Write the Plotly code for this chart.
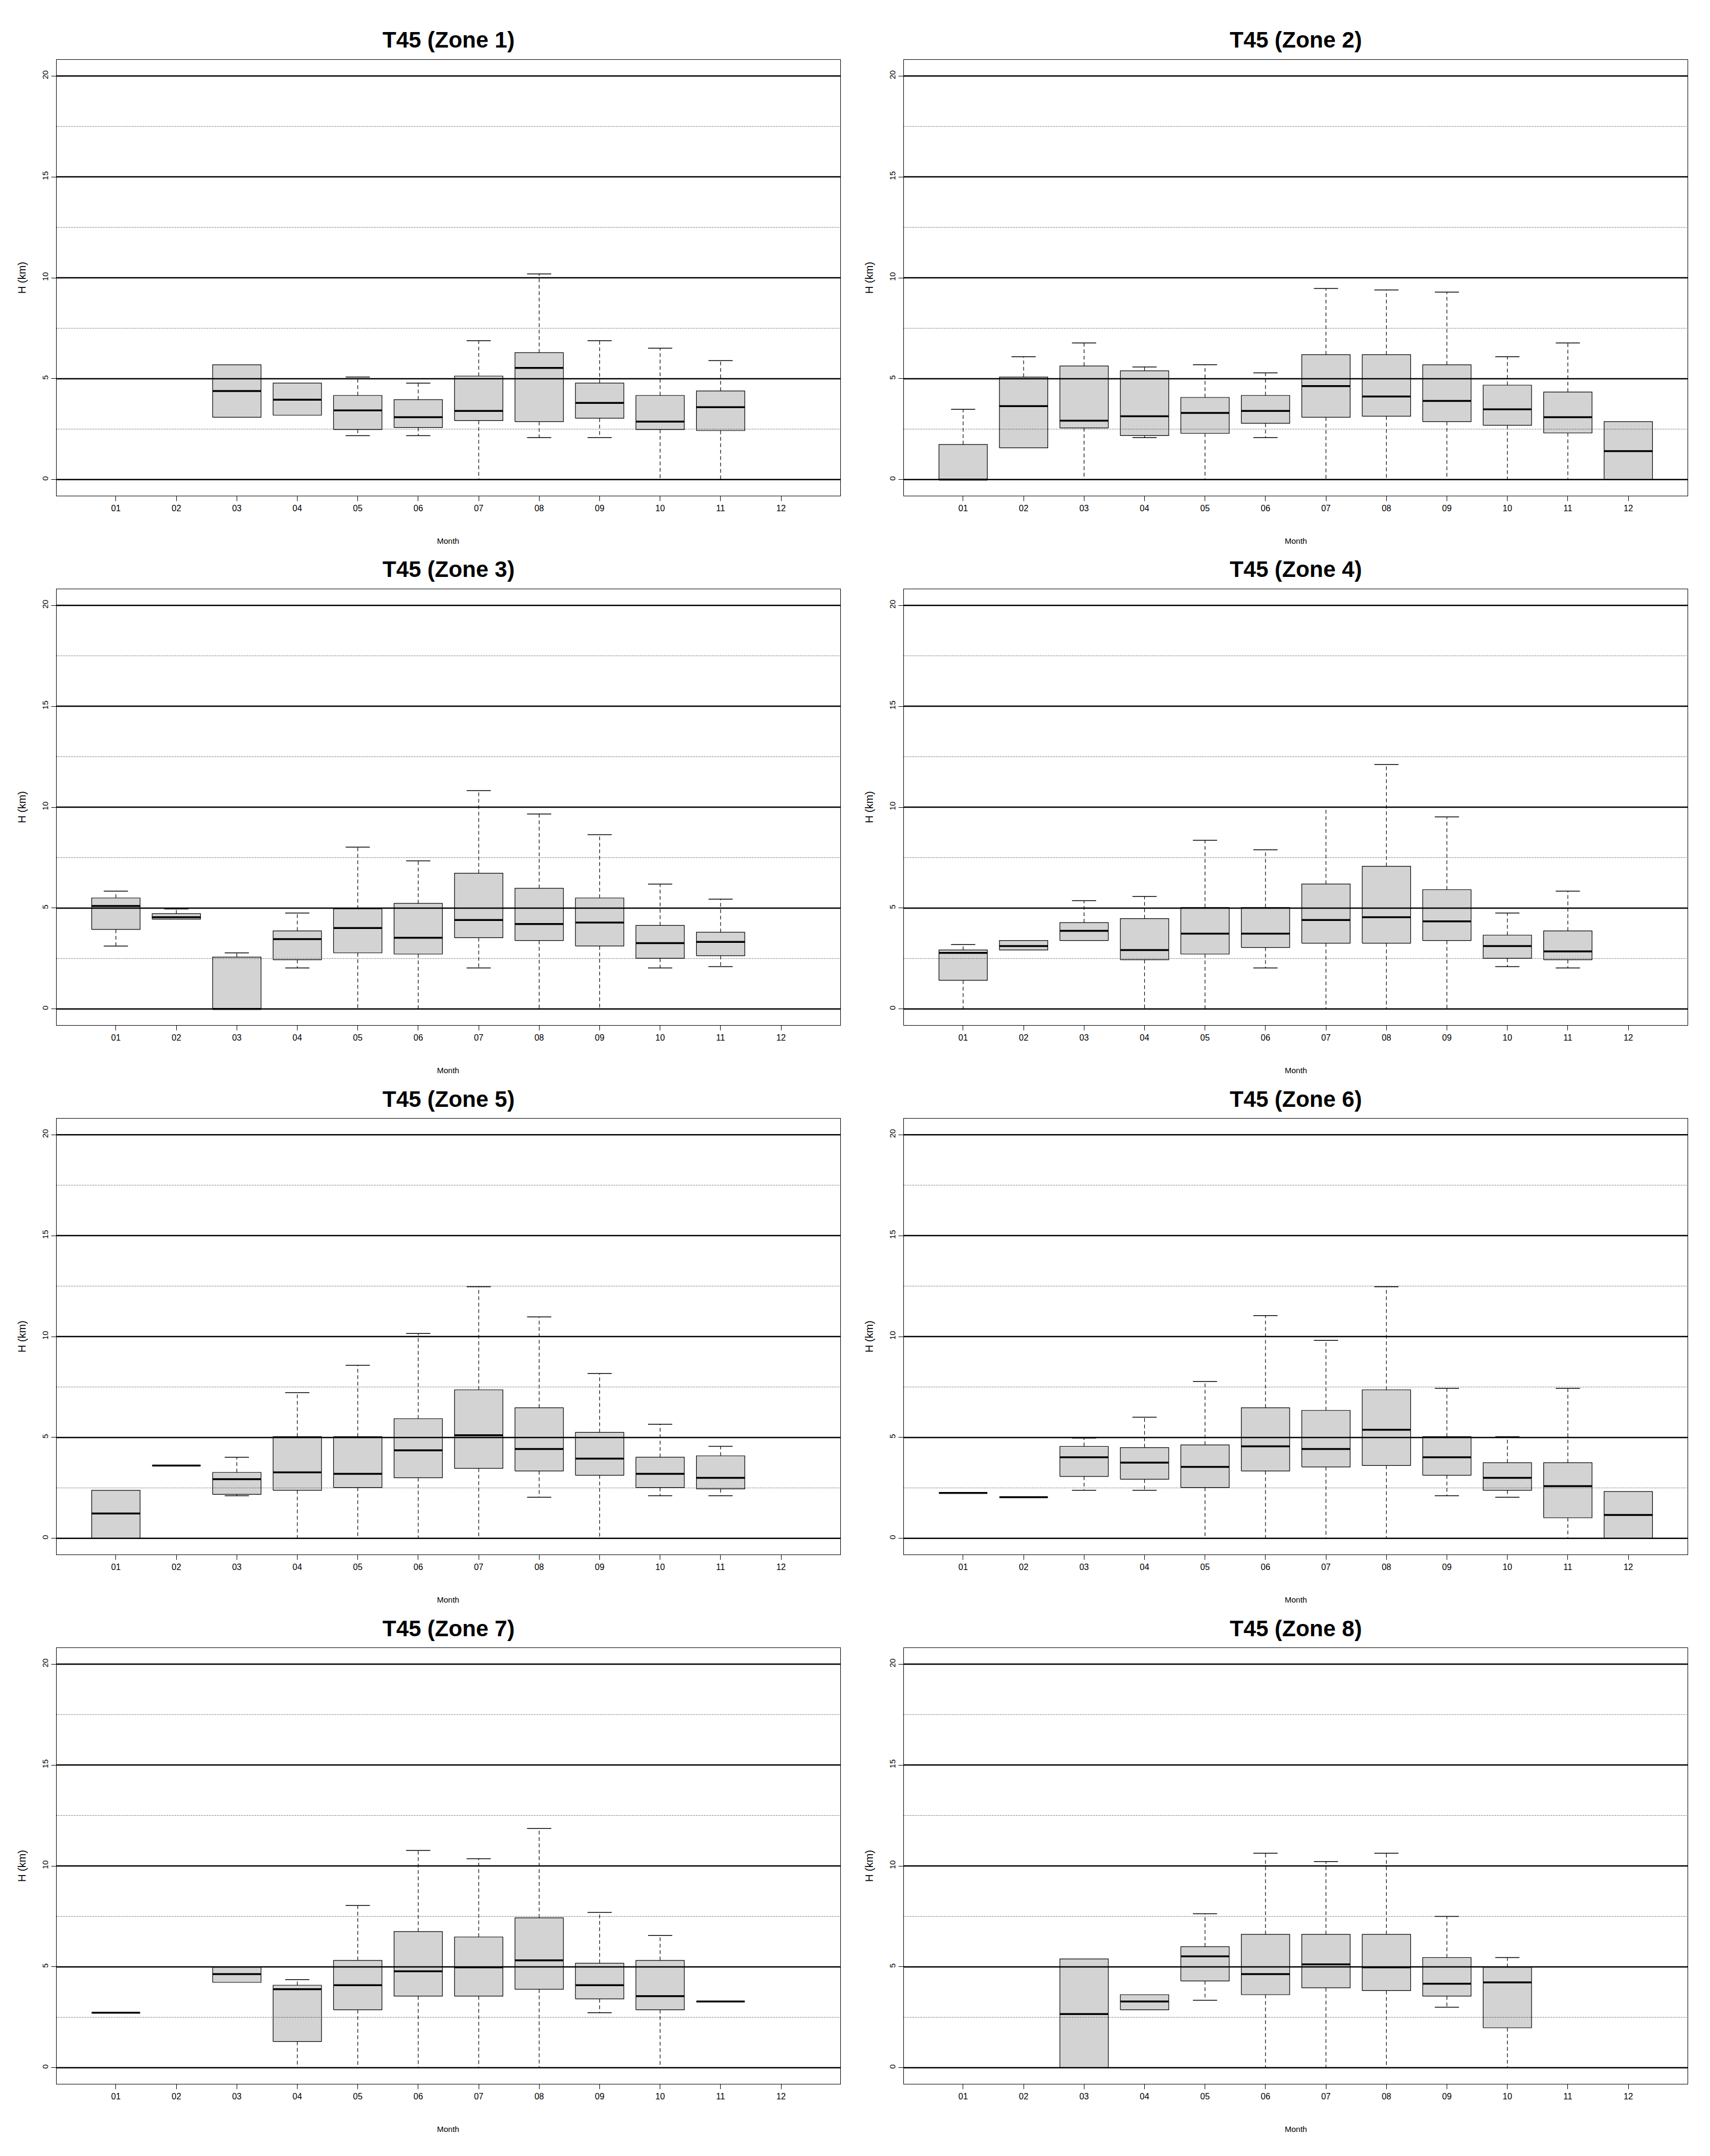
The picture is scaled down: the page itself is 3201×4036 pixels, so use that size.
import plotly.graph_objects as go

# ---------------- data ----------------
month_labels = ["01", "02", "03", "04", "05", "06", "07", "08", "09", "10", "11", "12"]
y_major = [0, 5, 10, 15, 20]
y_minor = [2.5, 7.5, 12.5, 17.5]

zone1_months = [3, 4, 5, 6, 7, 8, 9, 10, 11]
zone1_low = [3.09, 3.19, 2.18, 2.18, 0.0, 2.08, 2.08, 0.0, 0.0]
zone1_q1 = [3.09, 3.19, 2.48, 2.58, 2.92, 2.87, 3.04, 2.48, 2.43]
zone1_med = [4.39, 3.96, 3.43, 3.09, 3.40, 5.53, 3.80, 2.87, 3.59]
zone1_q3 = [5.69, 4.78, 4.17, 3.96, 5.13, 6.29, 4.78, 4.17, 4.39]
zone1_high = [5.69, 4.78, 5.08, 4.78, 6.88, 10.19, 6.88, 6.51, 5.90]

zone2_months = [1, 2, 3, 4, 5, 6, 7, 8, 9, 10, 11, 12]
zone2_low = [0.0, 1.57, 0.0, 2.08, 0.0, 2.08, 0.0, 0.0, 0.0, 0.0, 0.0, 0.0]
zone2_q1 = [0.0, 1.57, 2.56, 2.18, 2.29, 2.79, 3.09, 3.14, 2.87, 2.69, 2.31, 0.0]
zone2_med = [0.0, 3.64, 2.92, 3.14, 3.30, 3.40, 4.63, 4.12, 3.90, 3.48, 3.09, 1.41]
zone2_q3 = [1.74, 5.08, 5.63, 5.39, 4.07, 4.17, 6.19, 6.19, 5.69, 4.68, 4.34, 2.87]
zone2_high = [3.48, 6.09, 6.77, 5.58, 5.69, 5.29, 9.47, 9.40, 9.29, 6.09, 6.77, 2.87]

zone3_months = [1, 2, 3, 4, 5, 6, 7, 8, 9, 10, 11]
zone3_low = [3.12, 4.45, 0.0, 2.03, 0.0, 0.0, 2.03, 0.0, 0.0, 2.03, 2.10]
zone3_q1 = [3.94, 4.45, 0.0, 2.44, 2.78, 2.72, 3.53, 3.39, 3.12, 2.51, 2.64]
zone3_med = [5.10, 4.55, 0.0, 3.46, 4.01, 3.53, 4.41, 4.21, 4.28, 3.26, 3.32]
zone3_q3 = [5.50, 4.72, 2.57, 3.87, 4.96, 5.23, 6.73, 5.98, 5.50, 4.14, 3.80]
zone3_high = [5.84, 4.96, 2.78, 4.75, 8.02, 7.34, 10.82, 9.66, 8.64, 6.19, 5.44]

zone4_months = [1, 2, 3, 4, 5, 6, 7, 8, 9, 10, 11]
zone4_low = [0.0, 2.92, 3.39, 0.0, 0.0, 2.03, 0.0, 0.0, 0.0, 2.10, 2.03]
zone4_q1 = [1.42, 2.92, 3.39, 2.44, 2.72, 3.05, 3.26, 3.26, 3.39, 2.51, 2.44]
zone4_med = [2.78, 3.12, 3.87, 2.92, 3.73, 3.73, 4.41, 4.55, 4.34, 3.12, 2.85]
zone4_q3 = [2.92, 3.39, 4.28, 4.48, 5.03, 5.03, 6.19, 7.07, 5.91, 3.66, 3.87]
zone4_high = [3.19, 3.39, 5.37, 5.57, 8.36, 7.89, 10.00, 12.11, 9.52, 4.75, 5.84]

zone5_months = [1, 2, 3, 4, 5, 6, 7, 8, 9, 10, 11]
zone5_low = [0.0, 3.61, 2.11, 0.0, 0.0, 0.0, 0.0, 2.04, 0.0, 2.11, 2.11]
zone5_q1 = [0.0, 3.61, 2.18, 2.38, 2.52, 3.00, 3.47, 3.34, 3.13, 2.52, 2.45]
zone5_med = [1.23, 3.61, 2.93, 3.27, 3.20, 4.36, 5.11, 4.43, 3.95, 3.20, 3.00]
zone5_q3 = [2.38, 3.61, 3.27, 5.04, 5.04, 5.93, 7.36, 6.47, 5.25, 4.02, 4.09]
zone5_high = [2.38, 3.61, 4.02, 7.22, 8.58, 10.15, 12.47, 10.97, 8.17, 5.65, 4.56]

zone6_months = [1, 2, 3, 4, 5, 6, 7, 8, 9, 10, 11, 12]
zone6_low = [2.25, 2.04, 2.38, 2.38, 0.0, 0.0, 0.0, 0.0, 2.11, 2.04, 0.0, 0.0]
zone6_q1 = [2.25, 2.04, 3.07, 2.93, 2.52, 3.34, 3.54, 3.61, 3.13, 2.38, 1.02, 0.0]
zone6_med = [2.25, 2.04, 4.02, 3.75, 3.54, 4.56, 4.43, 5.38, 4.02, 3.00, 2.59, 1.16]
zone6_q3 = [2.25, 2.04, 4.56, 4.50, 4.63, 6.47, 6.34, 7.36, 5.04, 3.75, 3.75, 2.32]
zone6_high = [2.25, 2.04, 4.97, 6.00, 7.77, 11.04, 9.81, 12.47, 7.43, 5.04, 7.43, 2.32]

zone7_months = [1, 3, 4, 5, 6, 7, 8, 9, 10, 11]
zone7_low = [2.73, 4.23, 0.0, 0.0, 0.0, 0.0, 0.0, 2.73, 0.0, 3.28]
zone7_q1 = [2.73, 4.23, 1.30, 2.87, 3.55, 3.55, 3.89, 3.41, 2.87, 3.28]
zone7_med = [2.73, 4.64, 3.89, 4.09, 4.78, 4.98, 5.32, 4.09, 3.55, 3.28]
zone7_q3 = [2.73, 4.98, 4.09, 5.32, 6.75, 6.48, 7.43, 5.18, 5.32, 3.28]
zone7_high = [2.73, 4.98, 4.37, 8.04, 10.77, 10.36, 11.86, 7.70, 6.55, 3.28]

zone8_months = [3, 4, 5, 6, 7, 8, 9, 10]
zone8_low = [0.0, 2.87, 3.34, 0.0, 0.0, 0.0, 3.00, 0.0]
zone8_q1 = [0.0, 2.87, 4.30, 3.62, 3.96, 3.82, 3.55, 1.98]
zone8_med = [2.66, 3.28, 5.52, 4.64, 5.12, 4.98, 4.16, 4.23]
zone8_q3 = [5.39, 3.62, 6.00, 6.61, 6.61, 6.61, 5.46, 4.98]
zone8_high = [5.39, 3.62, 7.63, 10.63, 10.22, 10.63, 7.50, 5.46]

zone_titles = ["T45 (Zone 1)", "T45 (Zone 2)", "T45 (Zone 3)", "T45 (Zone 4)",
               "T45 (Zone 5)", "T45 (Zone 6)", "T45 (Zone 7)", "T45 (Zone 8)"]

zones = [
    (zone1_months, zone1_low, zone1_q1, zone1_med, zone1_q3, zone1_high),
    (zone2_months, zone2_low, zone2_q1, zone2_med, zone2_q3, zone2_high),
    (zone3_months, zone3_low, zone3_q1, zone3_med, zone3_q3, zone3_high),
    (zone4_months, zone4_low, zone4_q1, zone4_med, zone4_q3, zone4_high),
    (zone5_months, zone5_low, zone5_q1, zone5_med, zone5_q3, zone5_high),
    (zone6_months, zone6_low, zone6_q1, zone6_med, zone6_q3, zone6_high),
    (zone7_months, zone7_low, zone7_q1, zone7_med, zone7_q3, zone7_high),
    (zone8_months, zone8_low, zone8_q1, zone8_med, zone8_q3, zone8_high),
]

# ---------------- layout geometry ----------------
W, H = 3201, 4036
COL_L = [106, 1692]
COL_R = [1573, 3159]
ROW_STEP = 991
TOP0, BOT0 = 112, 928
BOX_HW = 0.4     # half box width (R boxwex 0.8)
CAP_HW = 0.2     # half staple width
FONT = "Arial, 'Liberation Sans', sans-serif"

fig = go.Figure()
layout_axes = {}
annotations = []
shapes = []

for i, (mon, low, q1, med, q3, high) in enumerate(zones):
    r, c = divmod(i, 2)
    ax = "" if i == 0 else str(i + 1)
    xa, ya = "x" + ax, "y" + ax
    top = TOP0 + ROW_STEP * r
    bot = BOT0 + ROW_STEP * r
    left, right = COL_L[c], COL_R[c]

    # boxes
    bx, by = [], []
    for m, a, b in zip(mon, q1, q3):
        bx += [m - BOX_HW, m + BOX_HW, m + BOX_HW, m - BOX_HW, m - BOX_HW, None]
        by += [a, a, b, b, a, None]
    fig.add_trace(go.Scatter(x=bx, y=by, xaxis=xa, yaxis=ya, mode="lines",
                             fill="toself", fillcolor="#D3D3D3",
                             line=dict(color="black", width=1.2),
                             hoverinfo="skip", showlegend=False))
    # whiskers (dashed)
    wx, wy = [], []
    for m, lo, a, b, hi in zip(mon, low, q1, q3, high):
        if hi > b:
            wx += [m, m, None]
            wy += [b, hi, None]
        if lo < a:
            wx += [m, m, None]
            wy += [a, lo, None]
    fig.add_trace(go.Scatter(x=wx, y=wy, xaxis=xa, yaxis=ya, mode="lines",
                             line=dict(color="black", width=1.2, dash="7px,5px"),
                             hoverinfo="skip", showlegend=False))
    # staples
    sx, sy = [], []
    for m, lo, a, b, hi in zip(mon, low, q1, q3, high):
        if hi > b:
            sx += [m - CAP_HW, m + CAP_HW, None]
            sy += [hi, hi, None]
        if lo < a:
            sx += [m - CAP_HW, m + CAP_HW, None]
            sy += [lo, lo, None]
    fig.add_trace(go.Scatter(x=sx, y=sy, xaxis=xa, yaxis=ya, mode="lines",
                             line=dict(color="black", width=1.5),
                             hoverinfo="skip", showlegend=False))
    # medians
    mx, my = [], []
    for m, v in zip(mon, med):
        mx += [m - BOX_HW, m + BOX_HW, None]
        my += [v, v, None]
    fig.add_trace(go.Scatter(x=mx, y=my, xaxis=xa, yaxis=ya, mode="lines",
                             line=dict(color="black", width=3.5),
                             hoverinfo="skip", showlegend=False))

    # reference lines drawn over the boxes
    for v in y_major:
        shapes.append(dict(type="line", xref=xa + " domain", yref=ya,
                           x0=0, x1=1, y0=v, y1=v, layer="above",
                           line=dict(color="black", width=2.5)))
    for v in y_minor:
        shapes.append(dict(type="line", xref=xa + " domain", yref=ya,
                           x0=0, x1=1, y0=v, y1=v, layer="above",
                           line=dict(color="black", width=1, dash="1px,2px")))

    layout_axes["xaxis" + ax] = dict(
        domain=[left / W, right / W], anchor=ya, range=[0.02, 12.98],
        tickmode="array", tickvals=list(range(1, 13)), ticktext=month_labels,
        ticks="outside", ticklen=9, tickwidth=1, tickcolor="black",
        showline=True, mirror=True, linecolor="black", linewidth=1.3,
        showgrid=False, zeroline=False,
        tickfont=dict(family=FONT, size=16, color="black"))
    layout_axes["yaxis" + ax] = dict(
        domain=[1 - bot / H, 1 - top / H], anchor=xa, range=[-0.8, 20.8],
        tickmode="array", tickvals=y_major, ticktext=[str(v) for v in y_major],
        tickangle=-90,
        ticks="outside", ticklen=9, tickwidth=1, tickcolor="black",
        showline=True, mirror=True, linecolor="black", linewidth=1.3,
        showgrid=False, zeroline=False,
        tickfont=dict(family=FONT, size=15, color="black"))

    cx = (left + right) / 2 / W
    annotations.append(dict(text=zone_titles[i], xref="paper", yref="paper",
                            x=cx, y=1 - (75 + ROW_STEP * r) / H,
                            xanchor="center", yanchor="middle", showarrow=False,
                            font=dict(family=FONT, size=42, color="black", weight="bold")))
    annotations.append(dict(text="Month", xref="paper", yref="paper",
                            x=cx, y=1 - (1012 + ROW_STEP * r) / H,
                            xanchor="center", yanchor="middle", showarrow=False,
                            font=dict(family=FONT, size=15, color="black")))
    annotations.append(dict(text="H (km)", xref="paper", yref="paper",
                            x=(left - 65) / W, y=1 - (top + bot) / 2 / H,
                            xanchor="center", yanchor="middle", showarrow=False,
                            textangle=-90,
                            font=dict(family=FONT, size=20, color="black")))

fig.update_layout(width=W, height=H, autosize=False,
                  margin=dict(l=0, r=0, t=0, b=0),
                  paper_bgcolor="white", plot_bgcolor="white",
                  showlegend=False, annotations=annotations, shapes=shapes,
                  **layout_axes)

fig.write_html("out.html")
